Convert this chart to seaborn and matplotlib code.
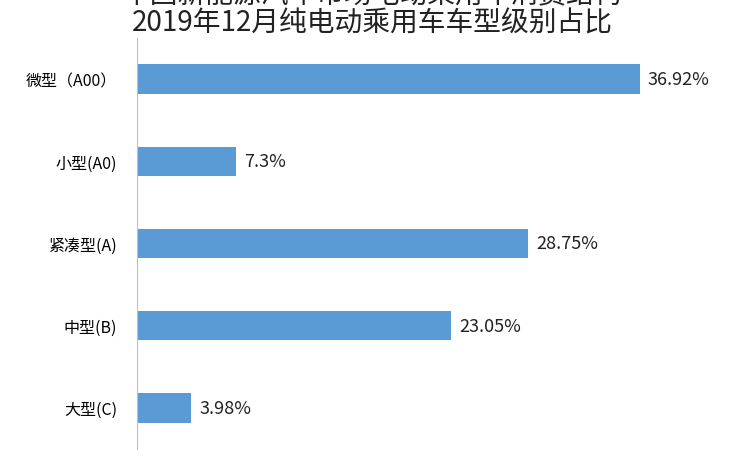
import matplotlib
matplotlib.use('Agg')
import matplotlib.pyplot as plt
import seaborn as sns
import pandas as pd

plt.rcParams['font.family'] = 'Noto Sans CJK SC'

categories = ['微型（A00）', '小型(A0)', '紧凑型(A)', '中型(B)', '大型(C)']
values = [36.92, 7.3, 28.75, 23.05, 3.98]
labels = ['36.92%', '7.3%', '28.75%', '23.05%', '3.98%']

df = pd.DataFrame({'cat': categories, 'val': values})

fig = plt.figure(figsize=(7.44, 4.6), dpi=100)
ax = fig.add_axes([0.184, 0.022, 0.756, 0.893])
sns.barplot(data=df, x='val', y='cat', color='#5B9BD5', saturation=1, width=0.36, ax=ax)
ax.set_xlim(0, 41.3)
ax.set_ylim(4.5, -0.5)
for i, (v, t) in enumerate(zip(values, labels)):
    ax.text(v + 0.6, i, t, va='center', ha='left', fontsize=13, color='#222222')
ax.set_xlabel('')
ax.set_ylabel('')
ax.set_xticks([])
ax.tick_params(axis='y', length=0, labelsize=11.5, pad=14)
for s in ['top', 'right', 'bottom']:
    ax.spines[s].set_visible(False)
ax.spines['left'].set_color('#BFBFBF')
fig.text(0.5, 0.948, '2019年12月纯电动乘用车车型级别占比', ha='center', va='center',
         fontsize=20, color='#222222')
# first title line is cut off at the top edge in the reference
fig.text(0.5, 1.01, '中国新能源汽车市场电动乘用车消费结构', ha='center', va='center',
         fontsize=20, color='#222222')
fig.savefig('out.png', dpi=100)
